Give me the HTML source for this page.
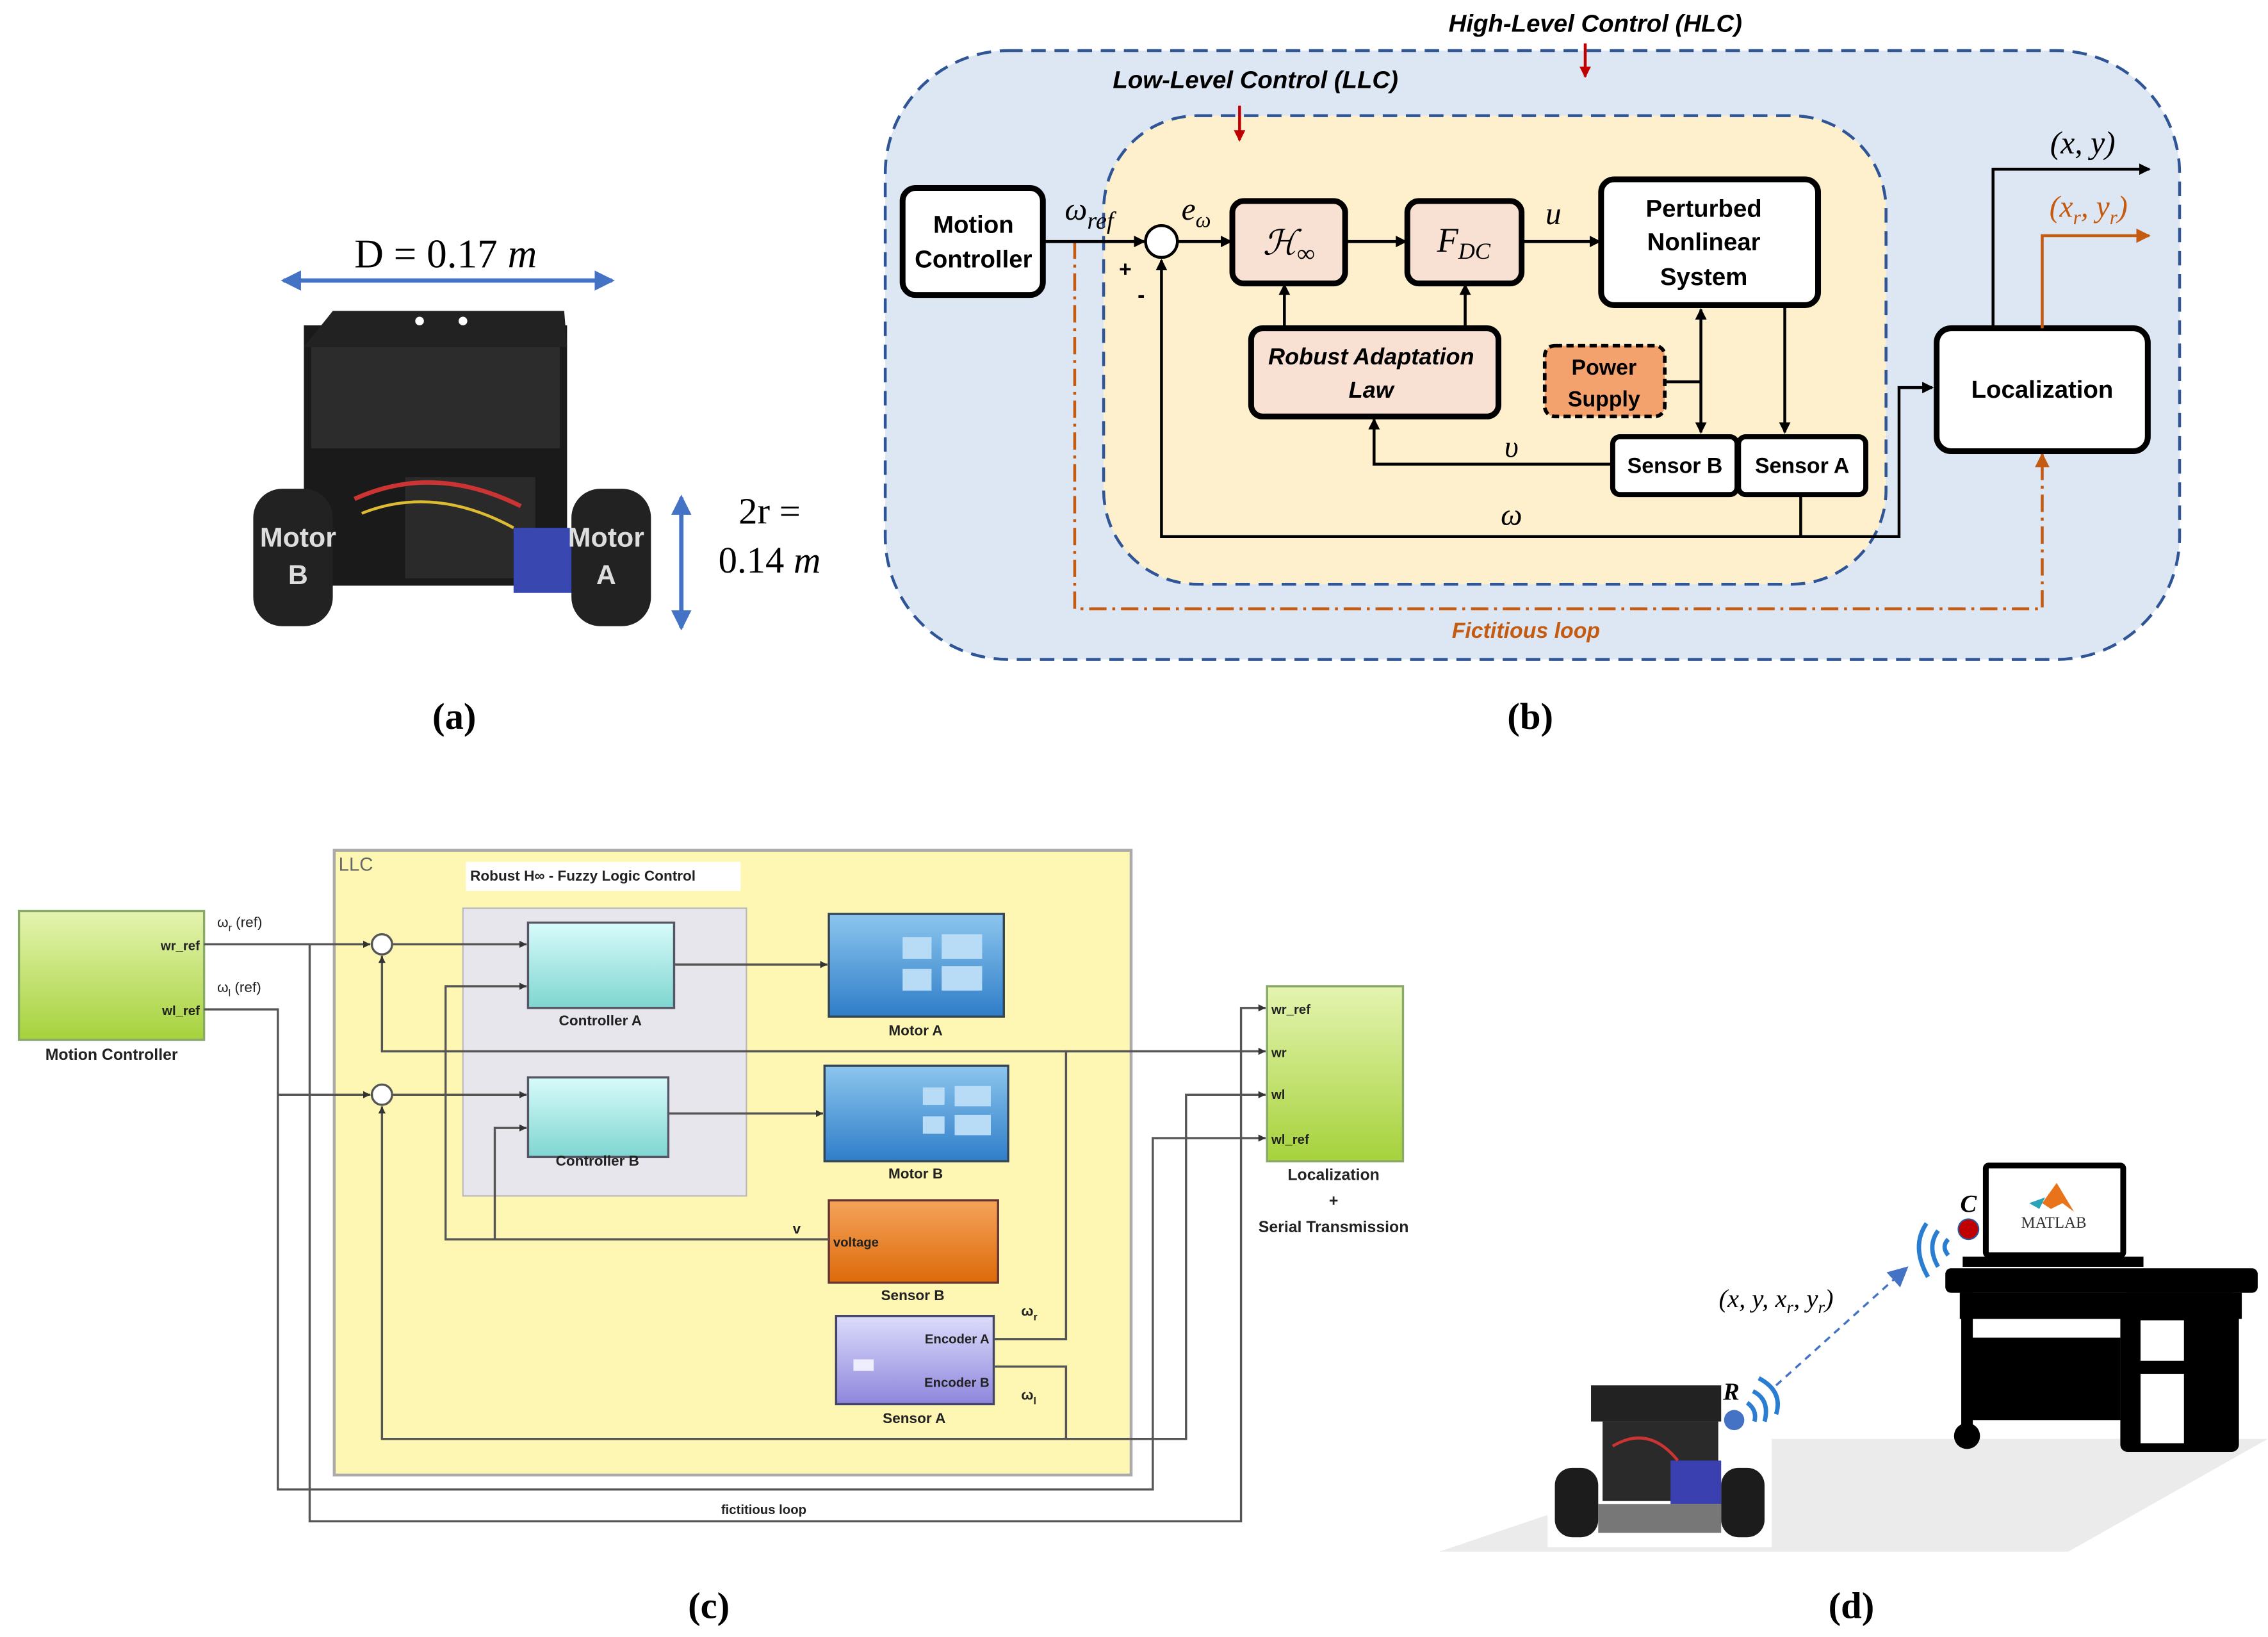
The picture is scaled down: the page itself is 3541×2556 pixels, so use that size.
<!DOCTYPE html>
<html><head><meta charset="utf-8"><style>
html,body{margin:0;padding:0;background:#fff}
svg{display:block}
text{font-family:"Liberation Sans",sans-serif}
.b{font-weight:bold}
.s{font-family:"Liberation Serif",serif}
</style></head><body>
<svg width="3541" height="2556" viewBox="0 0 1568 1132" xmlns="http://www.w3.org/2000/svg">
<defs>
<marker id="ak" markerWidth="8" markerHeight="8" refX="7" refY="4" orient="auto-start-reverse" markerUnits="userSpaceOnUse"><path d="M0,0 L8,4 L0,8 z" fill="#000"/></marker>
<marker id="ao" markerWidth="10" markerHeight="10" refX="9" refY="5" orient="auto" markerUnits="userSpaceOnUse"><path d="M0,0 L10,5 L0,10 z" fill="#c55a11"/></marker>
<marker id="ar" markerWidth="8" markerHeight="8" refX="7" refY="4" orient="auto" markerUnits="userSpaceOnUse"><path d="M0,0 L8,4 L0,8 z" fill="#c00000"/></marker>
<marker id="ab" markerWidth="14" markerHeight="14" refX="12" refY="7" orient="auto-start-reverse" markerUnits="userSpaceOnUse"><path d="M0,0 L14,7 L0,14 z" fill="#4472c4"/></marker>
<marker id="as" markerWidth="5" markerHeight="5" refX="5" refY="2.5" orient="auto" markerUnits="userSpaceOnUse"><path d="M0,0 L5,2.5 L0,5 z" fill="#333"/></marker>
<linearGradient id="gg" x1="0" y1="0" x2="0" y2="1"><stop offset="0" stop-color="#e4f4b0"/><stop offset="1" stop-color="#a6d23c"/></linearGradient>
<linearGradient id="gc" x1="0" y1="0" x2="0" y2="1"><stop offset="0" stop-color="#d8fbfb"/><stop offset="1" stop-color="#7fd6d0"/></linearGradient>
<linearGradient id="gb" x1="0" y1="0" x2="0" y2="1"><stop offset="0" stop-color="#8cc6ee"/><stop offset="1" stop-color="#2f7dc8"/></linearGradient>
<linearGradient id="go" x1="0" y1="0" x2="0" y2="1"><stop offset="0" stop-color="#f5a35a"/><stop offset="1" stop-color="#dd6a0a"/></linearGradient>
<linearGradient id="gp" x1="0" y1="0" x2="0" y2="1"><stop offset="0" stop-color="#dcdcfb"/><stop offset="1" stop-color="#8e86dc"/></linearGradient>
</defs>

<!-- (a) -->
<line x1="196" y1="194" x2="423" y2="194" stroke="#4472c4" stroke-width="3" marker-end="url(#ab)" marker-start="url(#ab)"/>
<text x="308" y="185" font-size="28" text-anchor="middle" class="s">D = 0.17 <tspan font-style="italic">m</tspan></text>
<rect x="210" y="225" width="182" height="180" fill="#1a1a1a"/>
<path d="M230,215 L390,215 L392,240 L210,240 z" fill="#222"/>
<rect x="215" y="240" width="172" height="70" fill="#2c2c2c"/>
<circle cx="290" cy="222" r="3" fill="#fff"/><circle cx="320" cy="222" r="3" fill="#fff"/>
<rect x="280" y="330" width="90" height="70" fill="#2a2a2a"/>
<rect x="355" y="365" width="50" height="45" fill="#3848b0"/>
<path d="M245,345 Q300,320 360,350" stroke="#c33" stroke-width="3" fill="none"/>
<path d="M250,355 Q300,335 355,365" stroke="#db3" stroke-width="2" fill="none"/>
<rect x="175" y="338" width="55" height="95" rx="20" fill="#222"/>
<rect x="395" y="338" width="55" height="95" rx="20" fill="#222"/>
<text x="206" y="378" font-size="19" fill="#ddd" class="b" text-anchor="middle">Motor</text>
<text x="206" y="404" font-size="19" fill="#ddd" class="b" text-anchor="middle">B</text>
<text x="419" y="378" font-size="19" fill="#ddd" class="b" text-anchor="middle">Motor</text>
<text x="419" y="404" font-size="19" fill="#ddd" class="b" text-anchor="middle">A</text>
<line x1="471" y1="344" x2="471" y2="434" stroke="#4472c4" stroke-width="3" marker-end="url(#ab)" marker-start="url(#ab)"/>
<text x="532" y="362" font-size="26" text-anchor="middle" class="s">2r =</text>
<text x="532" y="396" font-size="26" text-anchor="middle" class="s">0.14 <tspan font-style="italic">m</tspan></text>
<text x="314" y="504" font-size="26" text-anchor="middle" class="b s">(a)</text>

<!-- (b) -->
<rect x="612" y="35" width="895" height="421" rx="85" fill="#dde7f3" stroke="#2f5597" stroke-width="2" stroke-dasharray="10,6"/>
<rect x="763" y="80" width="541" height="324" rx="65" fill="#fff0cd" stroke="#2f5597" stroke-width="2" stroke-dasharray="10,6"/>
<text x="1103" y="22" font-size="17" font-style="italic" class="b" text-anchor="middle">High-Level Control (HLC)</text>
<line x1="1096" y1="30" x2="1096" y2="53" stroke="#c00000" stroke-width="2" marker-end="url(#ar)"/>
<text x="868" y="61" font-size="17" font-style="italic" class="b" text-anchor="middle">Low-Level Control (LLC)</text>
<line x1="857" y1="73" x2="857" y2="97" stroke="#c00000" stroke-width="2" marker-end="url(#ar)"/>

<polyline points="743,167 743,421 1412,421 1412,314" fill="none" stroke="#c55a11" stroke-width="2" stroke-dasharray="12,4,2,4" marker-end="url(#ao)"/>
<text x="1055" y="441" font-size="15" font-style="italic" class="b" fill="#c55a11" text-anchor="middle">Fictitious loop</text>

<rect x="624" y="130" width="97" height="74" rx="9" fill="#fff" stroke="#000" stroke-width="4"/>
<text x="673" y="161" font-size="17" class="b" text-anchor="middle">Motion</text>
<text x="673" y="185" font-size="17" class="b" text-anchor="middle">Controller</text>
<line x1="722" y1="167" x2="791" y2="167" stroke="#000" stroke-width="2" marker-end="url(#ak)"/>
<circle cx="803" cy="167" r="11" fill="#fff" stroke="#000" stroke-width="2"/>
<text x="753" y="152" font-size="22" font-style="italic" class="s" text-anchor="middle">ω<tspan font-size="17" dy="6">ref</tspan></text>
<text x="827" y="152" font-size="22" font-style="italic" class="s" text-anchor="middle">e<tspan font-size="15" dy="5">ω</tspan></text>
<text x="778" y="191" font-size="15" class="b" text-anchor="middle">+</text>
<text x="789" y="209" font-size="15" class="b" text-anchor="middle">-</text>
<line x1="814" y1="167" x2="851" y2="167" stroke="#000" stroke-width="2" marker-end="url(#ak)"/>
<rect x="852" y="139" width="78" height="57" rx="8" fill="#f8e1d3" stroke="#000" stroke-width="4"/>
<text x="891" y="176" font-size="24" font-style="italic" class="s" text-anchor="middle">ℋ<tspan font-size="17" dy="5">∞</tspan></text>
<line x1="930" y1="167" x2="972" y2="167" stroke="#000" stroke-width="2" marker-end="url(#ak)"/>
<rect x="973" y="139" width="79" height="57" rx="8" fill="#f8e1d3" stroke="#000" stroke-width="4"/>
<text x="1012" y="174" font-size="24" font-style="italic" class="s" text-anchor="middle">F<tspan font-size="16" dy="5">DC</tspan></text>
<line x1="1052" y1="167" x2="1106" y2="167" stroke="#000" stroke-width="2" marker-end="url(#ak)"/>
<text x="1074" y="155" font-size="22" font-style="italic" class="s" text-anchor="middle">u</text>
<rect x="1107" y="124" width="150" height="87" rx="9" fill="#fff" stroke="#000" stroke-width="4"/>
<text x="1178" y="150" font-size="17" class="b" text-anchor="middle">Perturbed</text>
<text x="1178" y="173" font-size="17" class="b" text-anchor="middle">Nonlinear</text>
<text x="1178" y="197" font-size="17" class="b" text-anchor="middle">System</text>
<rect x="865" y="227" width="171" height="61" rx="8" fill="#f8e1d3" stroke="#000" stroke-width="4"/>
<text x="948" y="252" font-size="16" font-style="italic" class="b" text-anchor="middle">Robust Adaptation</text>
<text x="948" y="275" font-size="16" font-style="italic" class="b" text-anchor="middle">Law</text>
<line x1="888" y1="227" x2="888" y2="197" stroke="#000" stroke-width="2" marker-end="url(#ak)"/>
<line x1="1013" y1="227" x2="1013" y2="197" stroke="#000" stroke-width="2" marker-end="url(#ak)"/>
<rect x="1068" y="239" width="83" height="49" rx="7" fill="#f4a26d" stroke="#000" stroke-width="2.5" stroke-dasharray="5,3"/>
<text x="1109" y="259" font-size="15" class="b" text-anchor="middle">Power</text>
<text x="1109" y="281" font-size="15" class="b" text-anchor="middle">Supply</text>
<line x1="1151" y1="264" x2="1176" y2="264" stroke="#000" stroke-width="2"/>
<line x1="1176" y1="214" x2="1176" y2="299" stroke="#000" stroke-width="2" marker-end="url(#ak)" marker-start="url(#ak)"/>
<line x1="1234" y1="211" x2="1234" y2="299" stroke="#000" stroke-width="2" marker-end="url(#ak)"/>
<rect x="1115" y="302" width="86" height="40" rx="5" fill="#fff" stroke="#000" stroke-width="3.5"/>
<text x="1158" y="327" font-size="15" class="b" text-anchor="middle">Sensor B</text>
<rect x="1202" y="302" width="88" height="40" rx="5" fill="#fff" stroke="#000" stroke-width="3.5"/>
<text x="1246" y="327" font-size="15" class="b" text-anchor="middle">Sensor A</text>
<polyline points="1115,321 950,321 950,290" fill="none" stroke="#000" stroke-width="2" marker-end="url(#ak)"/>
<text x="1045" y="316" font-size="21" font-style="italic" class="s" text-anchor="middle">υ</text>
<line x1="1245" y1="342" x2="1245" y2="371" stroke="#000" stroke-width="2"/>
<polyline points="1245,371 803,371 803,180" fill="none" stroke="#000" stroke-width="2" marker-end="url(#ak)"/>
<polyline points="1245,371 1313,371 1313,268 1336,268" fill="none" stroke="#000" stroke-width="2" marker-end="url(#ak)"/>
<text x="1045" y="363" font-size="21" font-style="italic" class="s" text-anchor="middle">ω</text>
<rect x="1339" y="227" width="146" height="85" rx="10" fill="#fff" stroke="#000" stroke-width="4"/>
<text x="1412" y="275" font-size="17" class="b" text-anchor="middle">Localization</text>
<polyline points="1378,227 1378,117 1486,117" fill="none" stroke="#000" stroke-width="2" marker-end="url(#ak)"/>
<text x="1440" y="106" font-size="22" font-style="italic" class="s" text-anchor="middle">(x, y)</text>
<polyline points="1412,227 1412,163 1486,163" fill="none" stroke="#c55a11" stroke-width="2" marker-end="url(#ao)"/>
<text x="1444" y="150" font-size="21" font-style="italic" class="s" fill="#c55a11" text-anchor="middle">(x<tspan font-size="14" dy="5">r</tspan><tspan dy="-5">, y</tspan><tspan font-size="14" dy="5">r</tspan><tspan dy="-5">)</tspan></text>
<text x="1058" y="504" font-size="26" text-anchor="middle" class="b s">(b)</text>

<!-- (c) -->
<g font-size="10" class="b" fill="#222">
<rect x="231" y="588" width="551" height="432" fill="#fdf7b3" stroke="#aaa" stroke-width="2"/>
<text x="234" y="602" font-size="13" font-weight="normal" fill="#666">LLC</text>
<rect x="322" y="596" width="190" height="20" fill="#fff"/>
<text x="325" y="609">Robust H∞ - Fuzzy Logic Control</text>
<rect x="320" y="628" width="196" height="199" fill="#e6e6ec" stroke="#bbb"/>
<rect x="365" y="638" width="101" height="59" fill="url(#gc)" stroke="#556" stroke-width="1.5"/>
<text x="415" y="709" text-anchor="middle">Controller A</text>
<rect x="365" y="745" width="97" height="55" fill="url(#gc)" stroke="#556" stroke-width="1.5"/>
<text x="413" y="806" text-anchor="middle">Controller B</text>
<rect x="573" y="632" width="121" height="71" fill="url(#gb)" stroke="#345" stroke-width="1.5"/>
<rect x="624" y="648" width="20" height="15" fill="#b8dcf5"/><rect x="651" y="646" width="28" height="17" fill="#b8dcf5"/>
<rect x="624" y="670" width="20" height="15" fill="#b8dcf5"/><rect x="651" y="668" width="28" height="17" fill="#b8dcf5"/>
<text x="633" y="716" text-anchor="middle">Motor A</text>
<rect x="570" y="737" width="127" height="66" fill="url(#gb)" stroke="#345" stroke-width="1.5"/>
<rect x="638" y="752" width="15" height="12" fill="#b8dcf5"/><rect x="660" y="751" width="25" height="14" fill="#b8dcf5"/>
<rect x="638" y="772" width="15" height="12" fill="#b8dcf5"/><rect x="660" y="771" width="25" height="14" fill="#b8dcf5"/>
<text x="633" y="815" text-anchor="middle">Motor B</text>
<rect x="573" y="830" width="117" height="57" fill="url(#go)" stroke="#633" stroke-width="1.5"/>
<text x="576" y="862" font-size="9">voltage</text>
<text x="631" y="899" text-anchor="middle">Sensor B</text>
<rect x="578" y="910" width="109" height="61" fill="url(#gp)" stroke="#446" stroke-width="1.5"/>
<text x="684" y="929" font-size="9" text-anchor="end">Encoder A</text>
<text x="684" y="959" font-size="9" text-anchor="end">Encoder B</text>
<rect x="590" y="940" width="14" height="8" fill="#eef"/>
<text x="632" y="984" text-anchor="middle">Sensor A</text>
<rect x="13" y="630" width="128" height="89" fill="url(#gg)" stroke="#8a6" stroke-width="1.5"/>
<text x="138" y="657" font-size="9" text-anchor="end">wr_ref</text>
<text x="138" y="702" font-size="9" text-anchor="end">wl_ref</text>
<text x="77" y="733" text-anchor="middle" font-size="11">Motion Controller</text>
<rect x="876" y="682" width="94" height="121" fill="url(#gg)" stroke="#8a6" stroke-width="1.5"/>
<text x="879" y="701" font-size="9">wr_ref</text>
<text x="879" y="731" font-size="9">wr</text>
<text x="879" y="760" font-size="9">wl</text>
<text x="879" y="791" font-size="9">wl_ref</text>
<text x="922" y="816" text-anchor="middle" font-size="11">Localization</text>
<text x="922" y="834" text-anchor="middle" font-size="11">+</text>
<text x="922" y="852" text-anchor="middle" font-size="11">Serial Transmission</text>
<text x="150" y="641" font-weight="normal">ω<tspan font-size="7" dy="3">r</tspan><tspan dy="-3"> (ref)</tspan></text>
<text x="150" y="686" font-weight="normal">ω<tspan font-size="7" dy="3">l</tspan><tspan dy="-3"> (ref)</tspan></text>
<text x="548" y="853">v</text>
<text x="706" y="910">ω<tspan font-size="7" dy="3">r</tspan></text>
<text x="706" y="968">ω<tspan font-size="7" dy="3">l</tspan></text>
<text x="528" y="1047" text-anchor="middle" font-size="9">fictitious loop</text>
</g>
<g fill="none" stroke="#555" stroke-width="1.5">
<circle cx="264" cy="653" r="7" fill="#fff"/>
<circle cx="264" cy="757" r="7" fill="#fff"/>
<line x1="141" y1="653" x2="256" y2="653" marker-end="url(#as)"/>
<line x1="271" y1="653" x2="364" y2="653" marker-end="url(#as)"/>
<line x1="271" y1="757" x2="364" y2="757" marker-end="url(#as)"/>
<line x1="466" y1="667" x2="572" y2="667" marker-end="url(#as)"/>
<line x1="462" y1="770" x2="569" y2="770" marker-end="url(#as)"/>
<polyline points="141,698 192,698 192,1030 797,1030 797,787 875,787" marker-end="url(#as)"/>
<polyline points="192,757 256,757" marker-end="url(#as)"/>
<polyline points="214,653 214,1052 858,1052 858,697 875,697" marker-end="url(#as)"/>
<polyline points="573,857 308,857 308,682 364,682" marker-end="url(#as)"/>
<polyline points="342,857 342,780 364,780" marker-end="url(#as)"/>
<polyline points="687,926 737,926 737,727 875,727" marker-end="url(#as)"/>
<polyline points="737,727 264,727 264,661" marker-end="url(#as)"/>
<polyline points="687,945 737,945 737,995 264,995 264,765" marker-end="url(#as)"/>
<polyline points="737,995 820,995 820,757 875,757" marker-end="url(#as)"/>
</g>
<text x="490" y="1119" font-size="26" text-anchor="middle" class="b s">(c)</text>

<!-- (d) -->
<polygon points="1225,995 1568,995 1430,1073 995,1073" fill="#ebebeb"/>
<rect x="1070" y="945" width="155" height="125" fill="#fff"/>
<rect x="1100" y="958" width="90" height="25" fill="#222"/>
<rect x="1108" y="983" width="80" height="55" fill="#2a2a2a"/>
<rect x="1155" y="1010" width="35" height="30" fill="#3a40b0"/>
<path d="M1115,1000 Q1140,985 1160,1010" stroke="#c33" stroke-width="2" fill="none"/>
<rect x="1075" y="1015" width="30" height="48" rx="12" fill="#1c1c1c"/>
<rect x="1190" y="1015" width="30" height="48" rx="12" fill="#1c1c1c"/>
<rect x="1105" y="1040" width="85" height="20" fill="#777"/>
<circle cx="1199" cy="982" r="7" fill="#4472c4"/>
<text x="1197" y="968" font-size="17" font-style="italic" class="b s" text-anchor="middle">R</text>
<path d="M1208,970 Q1215,975 1213,983 M1212,962 Q1224,968 1220,983 M1216,953 Q1233,962 1228,978" stroke="#2a7dd0" stroke-width="3" fill="none"/>
<line x1="1228" y1="958" x2="1318" y2="877" stroke="#4472c4" stroke-width="1.5" stroke-dasharray="5,4" marker-end="url(#ab)"/>
<text x="1228" y="904" font-size="18" font-style="italic" class="s" text-anchor="middle">(x, y, x<tspan font-size="12" dy="4">r</tspan><tspan dy="-4">, y</tspan><tspan font-size="12" dy="4">r</tspan><tspan dy="-4">)</tspan></text>
<circle cx="1361" cy="850" r="7" fill="#c00000" stroke="#2f5597"/>
<text x="1361" y="838" font-size="17" font-style="italic" class="b s" text-anchor="middle">C</text>
<path d="M1347,857 Q1342,862 1347,868 M1340,851 Q1332,862 1340,876 M1332,846 Q1321,862 1333,883" stroke="#2a7dd0" stroke-width="3" fill="none"/>
<rect x="1373" y="806" width="95" height="62" rx="2" fill="#fff" stroke="#000" stroke-width="4"/>
<path d="M1412,832 L1422,818 L1434,838 L1426,832 L1418,836 z" fill="#e8731a"/>
<path d="M1403,832 L1414,828 L1410,836 z" fill="#2aa3b8"/>
<text x="1420" y="849" font-size="11" class="s" fill="#333" text-anchor="middle">MATLAB</text>
<rect x="1357" y="869" width="125" height="7" fill="#000"/>
<rect x="1345" y="877" width="216" height="17" rx="4" fill="#000"/>
<rect x="1355" y="894" width="195" height="18" fill="#000"/>
<rect x="1356" y="894" width="8" height="95" fill="#000"/>
<rect x="1362" y="925" width="104" height="57" fill="#000"/>
<ellipse cx="1360" cy="993" rx="9" ry="9" fill="#000"/>
<rect x="1466" y="894" width="82" height="110" rx="5" fill="#000"/>
<rect x="1480" y="913" width="30" height="28" fill="#fff"/>
<rect x="1480" y="950" width="30" height="48" fill="#fff"/>
<text x="1280" y="1119" font-size="26" text-anchor="middle" class="b s">(d)</text>
</svg>
</body></html>
